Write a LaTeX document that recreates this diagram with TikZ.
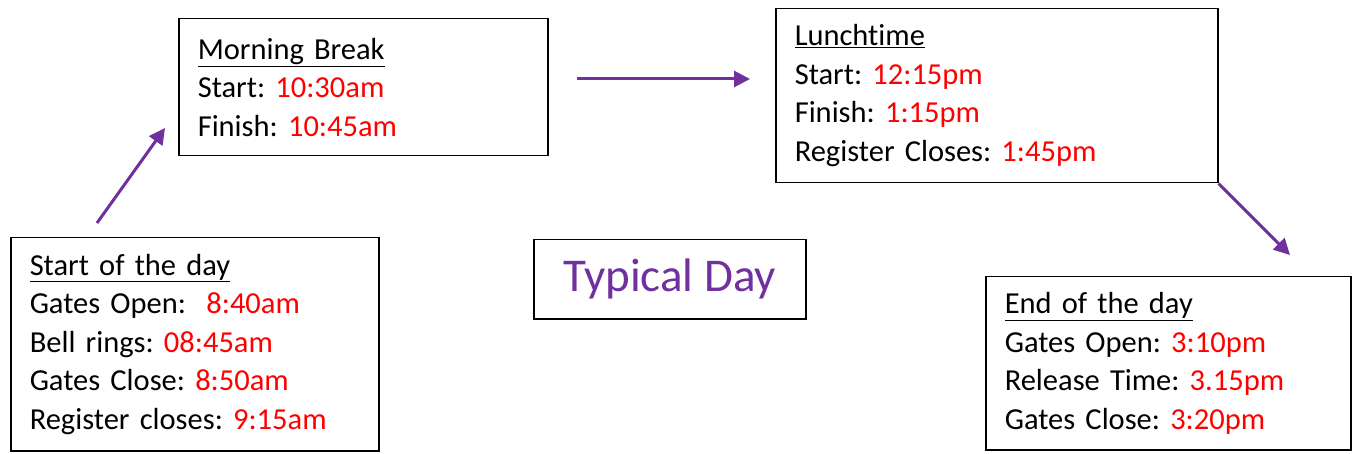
\documentclass[tikz,border=0pt]{standalone}
\usepackage{fontspec}
\setmainfont{Carlito}[Ligatures={NoCommon}]
\usepackage{xcolor}
\usetikzlibrary{arrows.meta}
\definecolor{daypurple}{RGB}{112, 48, 160}
\definecolor{timered}{RGB}{255, 0, 0}
\newcommand{\tm}[1]{\textcolor{timered}{#1}}
\frenchspacing
\tikzset{
  daybox/.style={draw, line width=1.5pt, anchor=north west, align=left, inner xsep=19pt,
    font=\fontsize{30.5}{38.5}\selectfont},
  dayarrow/.style={->, >={Triangle[length=16pt,width=16pt]}, line width=3pt, daypurple}
}

\begin{document}
\begin{tikzpicture}[x=1pt, y=-1pt]
  \useasboundingbox (0,0) rectangle (1362,454);
  % Boxes
  \node[daybox, text width=330pt, minimum height=213pt] (start) at (10,237)
    {\underline{Start of the day}\\Gates Open: \ \tm{8:40am}\\Bell rings: \tm{08:45am}\\Gates Close: \tm{8:50am}\\Register closes: \tm{9:15am}};
  \node[daybox, text width=331pt, minimum height=137pt] (morning) at (178,18)
    {\underline{Morning Break}\\Start: \tm{10:30am}\\Finish: \tm{10:45am}};
  \node[daybox, text width=404pt, minimum height=174pt] (lunch) at (775,8)
    {\underline{Lunchtime}\\Start: \tm{12:15pm}\\Finish: \tm{1:15pm}\\Register Closes: \tm{1:45pm}};
  \node[daybox, text width=327pt, minimum height=173pt] (end) at (985,276)
    {\underline{End of the day}\\Gates Open: \tm{3:10pm}\\Release Time: \tm{3.15pm}\\Gates Close: \tm{3:20pm}};
  % Title
  \node[draw, line width=1.5pt, anchor=north west, minimum width=272pt, minimum height=79pt,
    text=daypurple, font=\fontsize{47}{52}\selectfont] (title) at (533,239) {Typical Day};
  % Arrows
  \coordinate (up0) at (97,223);
  \coordinate (up1) at (165,128);
  \coordinate (mid0) at (577,79);
  \coordinate (mid1) at (750,79);
  \coordinate (down1) at (1290,255);
  \draw[dayarrow] (up0) -- (up1);
  \draw[dayarrow] (mid0) -- (mid1);
  \draw[dayarrow] (lunch.south east) -- (down1);
\end{tikzpicture}
\end{document}
